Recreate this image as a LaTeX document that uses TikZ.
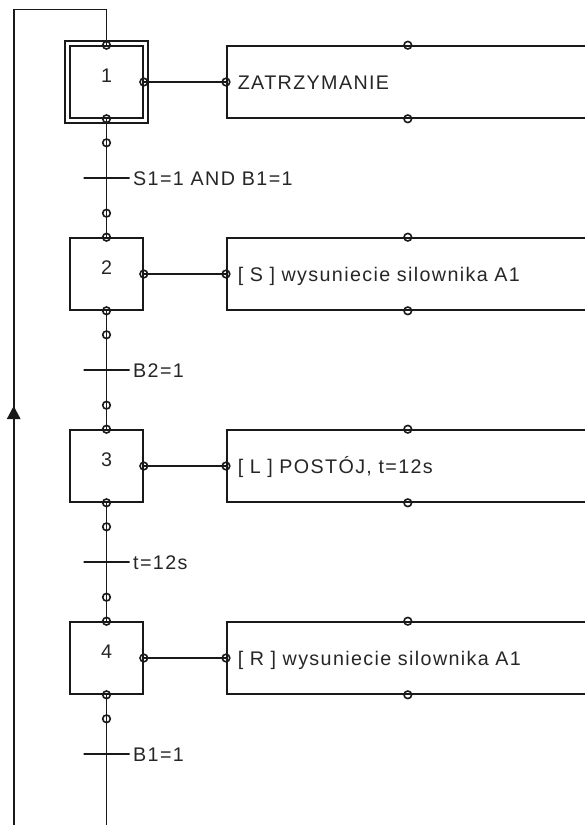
\documentclass[tikz,border=0pt]{standalone}
\usepackage{fontspec}
\setmainfont[LetterSpace=7]{Liberation Sans}
\begin{document}
\begin{tikzpicture}[x=1pt,y=-1pt,
  ln/.style={line width=1.6pt, draw=black!90},
  txt/.style={font=\fontsize{19.7}{23}\selectfont, text=black!85},
  stepbox/.style={ln, rectangle, minimum width=73pt, minimum height=72pt, inner sep=0pt},
  actbox/.style={ln, txt, rectangle, anchor=west, inner xsep=11pt, inner ysep=0pt,
    text width=340pt, align=left, minimum height=72pt, text height=14.1pt, text depth=0pt},
  tbar/.style={ln, rectangle, minimum width=46pt, minimum height=0pt, inner sep=0pt},
  tlabel/.style={txt, anchor=west, inner sep=0pt, text height=14.1pt, text depth=0pt},
  num/.style={txt, anchor=base, inner sep=0pt},
  pin/.style={ln}
]
\useasboundingbox (0,0) rectangle (585,825);
\clip (0,0) rectangle (585,825);

% steps
\node[stepbox] (s1) at (106.5,82) {};
\node[stepbox] (s2) at (106.5,274) {};
\node[stepbox] (s3) at (106.5,466) {};
\node[stepbox] (s4) at (106.5,658) {};
\draw[ln] ([shift={(-4pt,4pt)}]s1.north west) rectangle ([shift={(4pt,-4pt)}]s1.south east);

\node[num] (n1) at (s1.center) {1};
\node[num] (n2) at (s2.center) {2};
\node[num] (n3) at (s3.center) {3};
\node[num] (n4) at (s4.center) {4};

% actions
\node[actbox] (a1) at (226,82) {ZATRZYMANIE};
\node[actbox] (a2) at (226,274) {[ S ] wysuniecie silownika A1};
\node[actbox] (a3) at (226,466) {[ L ] POSTÓJ, t=12s};
\node[actbox] (a4) at (226,658) {[ R ] wysuniecie silownika A1};

% transitions
\node[tbar] (t1) at (106.5,178) {};
\node[tbar] (t2) at (106.5,370) {};
\node[tbar] (t3) at (106.5,562) {};
\node[tbar] (t4) at (106.5,754) {};
\node[tlabel] (l1) at (133,178) {S1=1 AND B1=1};
\node[tlabel] (l2) at (133,370) {B2=1};
\node[tlabel] (l3) at (133,562) {t=12s};
\node[tlabel] (l4) at (133,754) {B1=1};

% connections
\coordinate (bot) at (106.5,830);
\coordinate (botL) at (13.7,830);
\coordinate (topL) at (13.7,9.5);
\coordinate (topR) at (106.5,9.5);
\draw[ln] (s1.south) -- (t1) -- (s2.north);
\draw[ln] (s2.south) -- (t2) -- (s3.north);
\draw[ln] (s3.south) -- (t3) -- (s4.north);
\draw[ln] (s4.south) -- (t4) -- (bot);
\draw[ln] (botL) -- (topL) -- (topR) -- (s1.north);
\fill[black!90] (13.7,406) -- (6.8,419) -- (20.6,419) -- cycle;

\foreach \i in {1,2,3,4}{
  \draw[ln] (s\i.east) -- (a\i.west);
  \foreach \a in {north,south,east}{ \draw[pin] (s\i.\a) circle (3.8); }
  \foreach \a in {north,south,east,west}{ \draw[pin] (a\i.\a) circle (3.8); }
  \draw[pin] ([yshift=-24pt]s\i.south) circle (3.8);
}
\foreach \i in {2,3,4}{ \draw[pin] ([yshift=24pt]s\i.north) circle (3.8); }
\end{tikzpicture}
\end{document}
